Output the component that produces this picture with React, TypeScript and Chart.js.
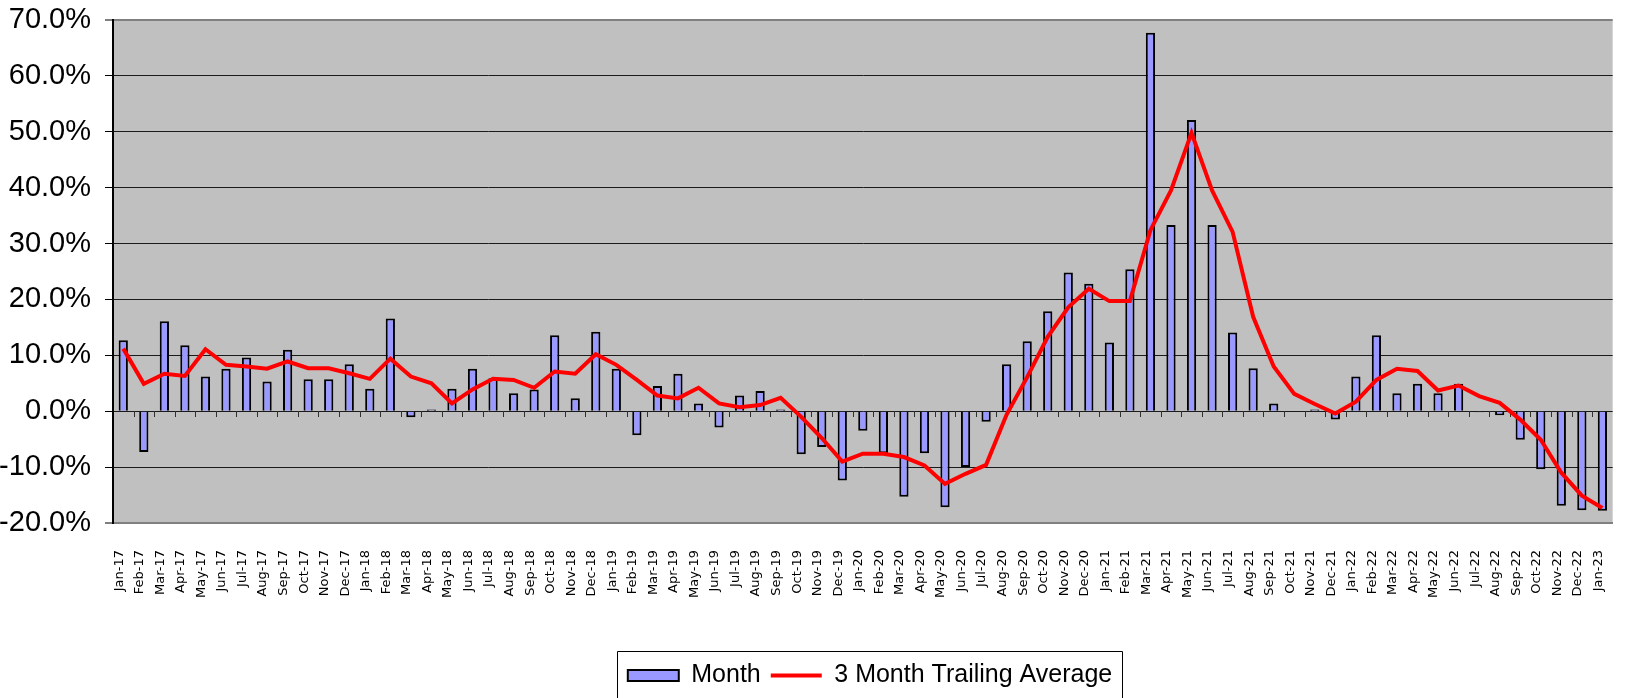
import React, { useEffect, useRef } from "react";
import { Chart, registerables } from "chart.js";

Chart.register(...registerables);

const months = [
  "Jan-17", "Feb-17", "Mar-17", "Apr-17", "May-17", "Jun-17", "Jul-17", "Aug-17", "Sep-17", "Oct-17", "Nov-17", "Dec-17",
  "Jan-18", "Feb-18", "Mar-18", "Apr-18", "May-18", "Jun-18", "Jul-18", "Aug-18", "Sep-18", "Oct-18", "Nov-18", "Dec-18",
  "Jan-19", "Feb-19", "Mar-19", "Apr-19", "May-19", "Jun-19", "Jul-19", "Aug-19", "Sep-19", "Oct-19", "Nov-19", "Dec-19",
  "Jan-20", "Feb-20", "Mar-20", "Apr-20", "May-20", "Jun-20", "Jul-20", "Aug-20", "Sep-20", "Oct-20", "Nov-20", "Dec-20",
  "Jan-21", "Feb-21", "Mar-21", "Apr-21", "May-21", "Jun-21", "Jul-21", "Aug-21", "Sep-21", "Oct-21", "Nov-21", "Dec-21",
  "Jan-22", "Feb-22", "Mar-22", "Apr-22", "May-22", "Jun-22", "Jul-22", "Aug-22", "Sep-22", "Oct-22", "Nov-22", "Dec-22",
  "Jan-23",
];

// Monthly change, percent
const monthValues = [
  12.7, -7.3, 16.1, 11.8, 6.2, 7.6, 9.6, 5.3, 11.0, 5.7, 5.7, 8.4,
  4.0, 16.6, -1.1, 0.3, 4.0, 7.6, 5.9, 3.2, 3.9, 13.6, 2.3, 14.2,
  7.6, -4.3, 4.5, 6.7, 1.4, -2.9, 2.8, 3.6, 0.3, -7.7, -6.4, -12.4,
  -3.5, -7.5, -15.3, -7.5, -17.2, -10.0, -1.9, 8.4, 12.5, 17.9, 24.8, 22.8,
  12.3, 25.4, 67.7, 33.3, 52.1, 33.3, 14.1, 7.7, 1.4, 0.0, 0.3, -1.5,
  6.2, 13.6, 3.2, 4.9, 3.2, 4.9, -0.2, -0.7, -5.1, -10.4, -16.9, -17.7,
  -17.8,
];

// 3 month trailing average, percent
const trailingAverage = [
  11.2, 4.9, 6.7, 6.3, 11.1, 8.3, 8.0, 7.6, 8.9, 7.7, 7.7, 6.8,
  5.8, 9.4, 6.2, 5.0, 1.4, 3.9, 5.8, 5.6, 4.2, 7.1, 6.7, 10.2,
  8.3, 5.6, 2.8, 2.3, 4.2, 1.4, 0.7, 1.1, 2.4, -1.0, -4.8, -9.0,
  -7.6, -7.6, -8.2, -9.7, -13.0, -11.2, -9.6, -0.6, 6.1, 13.3, 18.6, 21.9,
  19.7, 19.7, 32.4, 39.5, 49.8, 39.5, 32.1, 16.9, 8.0, 3.1, 1.3, -0.4,
  1.7, 5.6, 7.6, 7.2, 3.7, 4.6, 2.7, 1.5, -1.5, -5.1, -11.0, -15.1,
  -17.3,
];

const yMin = -20;
const yMax = 70;
const yStep = 10;

const seriesNames = ["Month", "3 Month Trailing Average"];

const CANVAS_W = 1637;
const CANVAS_H = 698;
const LEGEND_CENTER = 870;

const plotBackground = {
  id: "plotBackground",
  beforeDraw(chart: any) {
    const { ctx, chartArea } = chart;
    ctx.save();
    ctx.fillStyle = "#c0c0c0";
    ctx.fillRect(chartArea.left, chartArea.top, chartArea.right - chartArea.left, chartArea.bottom - chartArea.top);
    ctx.restore();
  },
};

const zeroLineTicks = {
  id: "zeroLineTicks",
  beforeDatasetsDraw(chart: any) {
    const { ctx } = chart;
    const xs = chart.scales.x;
    const ys = chart.scales.y;
    const y0 = Math.round(ys.getPixelForValue(0));
    ctx.save();
    ctx.strokeStyle = "#303030";
    ctx.lineWidth = 1;
    ctx.beginPath();
    for (let i = 1; i < months.length; i++) {
      const px = Math.round((xs.getPixelForValue(i - 1) + xs.getPixelForValue(i)) / 2) + 0.5;
      ctx.moveTo(px, y0);
      ctx.lineTo(px, y0 + 6);
    }
    ctx.stroke();
    ctx.restore();
  },
};

const legendFrame = {
  id: "legendFrame",
  afterLayout(chart: any) {
    const lg = chart.legend;
    if (!lg) return;
    const dx = LEGEND_CENTER - (lg.left + lg.right) / 2;
    lg.left += dx;
    lg.right += dx;
  },
  afterDraw(chart: any) {
    const lg = chart.legend;
    if (!lg || !lg.legendHitBoxes || !lg.legendHitBoxes.length) return;
    const hb = lg.legendHitBoxes;
    let left = Infinity;
    let right = -Infinity;
    let top = Infinity;
    hb.forEach((b: any) => {
      left = Math.min(left, b.left);
      right = Math.max(right, b.left + b.width);
      top = Math.min(top, b.top);
    });
    const { ctx } = chart;
    ctx.save();
    ctx.strokeStyle = "#000";
    ctx.lineWidth = 1;
    const x0 = Math.round(left - 11) + 0.5;
    const x1 = Math.round(right + 10) + 0.5;
    const y0 = Math.round(top - 12) + 0.5;
    ctx.beginPath();
    ctx.moveTo(x0, chart.height + 2);
    ctx.lineTo(x0, y0);
    ctx.lineTo(x1, y0);
    ctx.lineTo(x1, chart.height + 2);
    ctx.stroke();
    ctx.restore();
  },
};

export default function App() {
  const canvasRef = useRef<HTMLCanvasElement | null>(null);

  useEffect(() => {
    const canvas = canvasRef.current;
    if (!canvas) return;
    const chart = new Chart(canvas, {
      type: "bar",
      data: {
        labels: months,
        datasets: [
          {
            type: "bar",
            label: seriesNames[0],
            data: monthValues,
            backgroundColor: "#9999ff",
            borderColor: "#000000",
            borderWidth: 2,
            barPercentage: 0.45,
            categoryPercentage: 1,
            order: 1,
          },
          {
            type: "line",
            label: seriesNames[1],
            data: trailingAverage,
            borderColor: "#ff0000",
            backgroundColor: "#ff0000",
            borderWidth: 4,
            pointRadius: 0,
            pointHoverRadius: 0,
            tension: 0,
            fill: false,
            order: 0,
          },
        ],
      },
      options: {
        animation: false,
        responsive: false,
        devicePixelRatio: 1,
        events: [],
        layout: { padding: { top: 20, right: 0.5, left: 0, bottom: 0 } },
        scales: {
          x: {
            type: "category",
            offset: true,
            grid: { display: false },
            border: { display: true, color: "#808080", width: 2 },
            ticks: {
              autoSkip: false,
              minRotation: 90,
              maxRotation: 90,
              padding: 19,
              labelOffset: -4,
              color: "#000",
              font: { family: "DejaVu Sans", size: 13 },
            },
            afterFit(scale: any) {
              scale.height = 130;
            },
          },
          y: {
            min: yMin,
            max: yMax,
            ticks: {
              stepSize: yStep,
              padding: 14,
              color: "#000",
              font: { family: "Liberation Sans", size: 29 },
              callback: (v: any) => Number(v).toFixed(1) + "%",
            },
            grid: {
              color: (ctx: any) =>
                ctx.tick && (ctx.tick.value === yMax || ctx.tick.value === yMin) ? "#808080" : "#1a1a1a",
              lineWidth: (ctx: any) =>
                ctx.tick && (ctx.tick.value === yMax || ctx.tick.value === yMin) ? 2 : 1,
              tickColor: "#000",
              tickLength: 8,
              tickWidth: 1,
            },
            border: { display: true, color: "#000", width: 2 },
            afterFit(scale: any) {
              scale.width = 113;
              scale.paddingTop = 0;
              scale.paddingBottom = 0;
            },
          },
        },
        plugins: {
          tooltip: { enabled: false },
          title: { display: false },
          legend: {
            display: true,
            position: "bottom",
            labels: {
              usePointStyle: true,
              pointStyleWidth: 51,
              boxHeight: 11,
              padding: 10,
              color: "#000",
              font: { family: "Liberation Sans", size: 25 },
              generateLabels(ch: any) {
                const items = (Chart as any).defaults.plugins.legend.labels.generateLabels(ch);
                items.sort((a: any, b: any) => a.datasetIndex - b.datasetIndex);
                items.forEach((it: any) => {
                  if (it.datasetIndex === 0) {
                    it.pointStyle = "rect";
                    it.fillStyle = "#9999ff";
                    it.strokeStyle = "#000";
                    it.lineWidth = 2;
                  } else {
                    it.pointStyle = "line";
                    it.strokeStyle = "#ff0000";
                    it.fillStyle = "#ff0000";
                    it.lineWidth = 4;
                  }
                  it.rotation = 0;
                });
                return items;
              },
            },
          },
        },
      },
      plugins: [plotBackground, zeroLineTicks, legendFrame],
    } as any);
    return () => chart.destroy();
  }, []);

  return (
    <div
      style={{
        position: "absolute",
        left: 0,
        top: 0,
        width: 1633,
        height: 698,
        overflow: "hidden",
        background: "#fff",
      }}
    >
      <canvas
        ref={canvasRef}
        width={CANVAS_W}
        height={CANVAS_H}
        style={{ display: "block", width: CANVAS_W, height: CANVAS_H }}
      />
    </div>
  );
}
